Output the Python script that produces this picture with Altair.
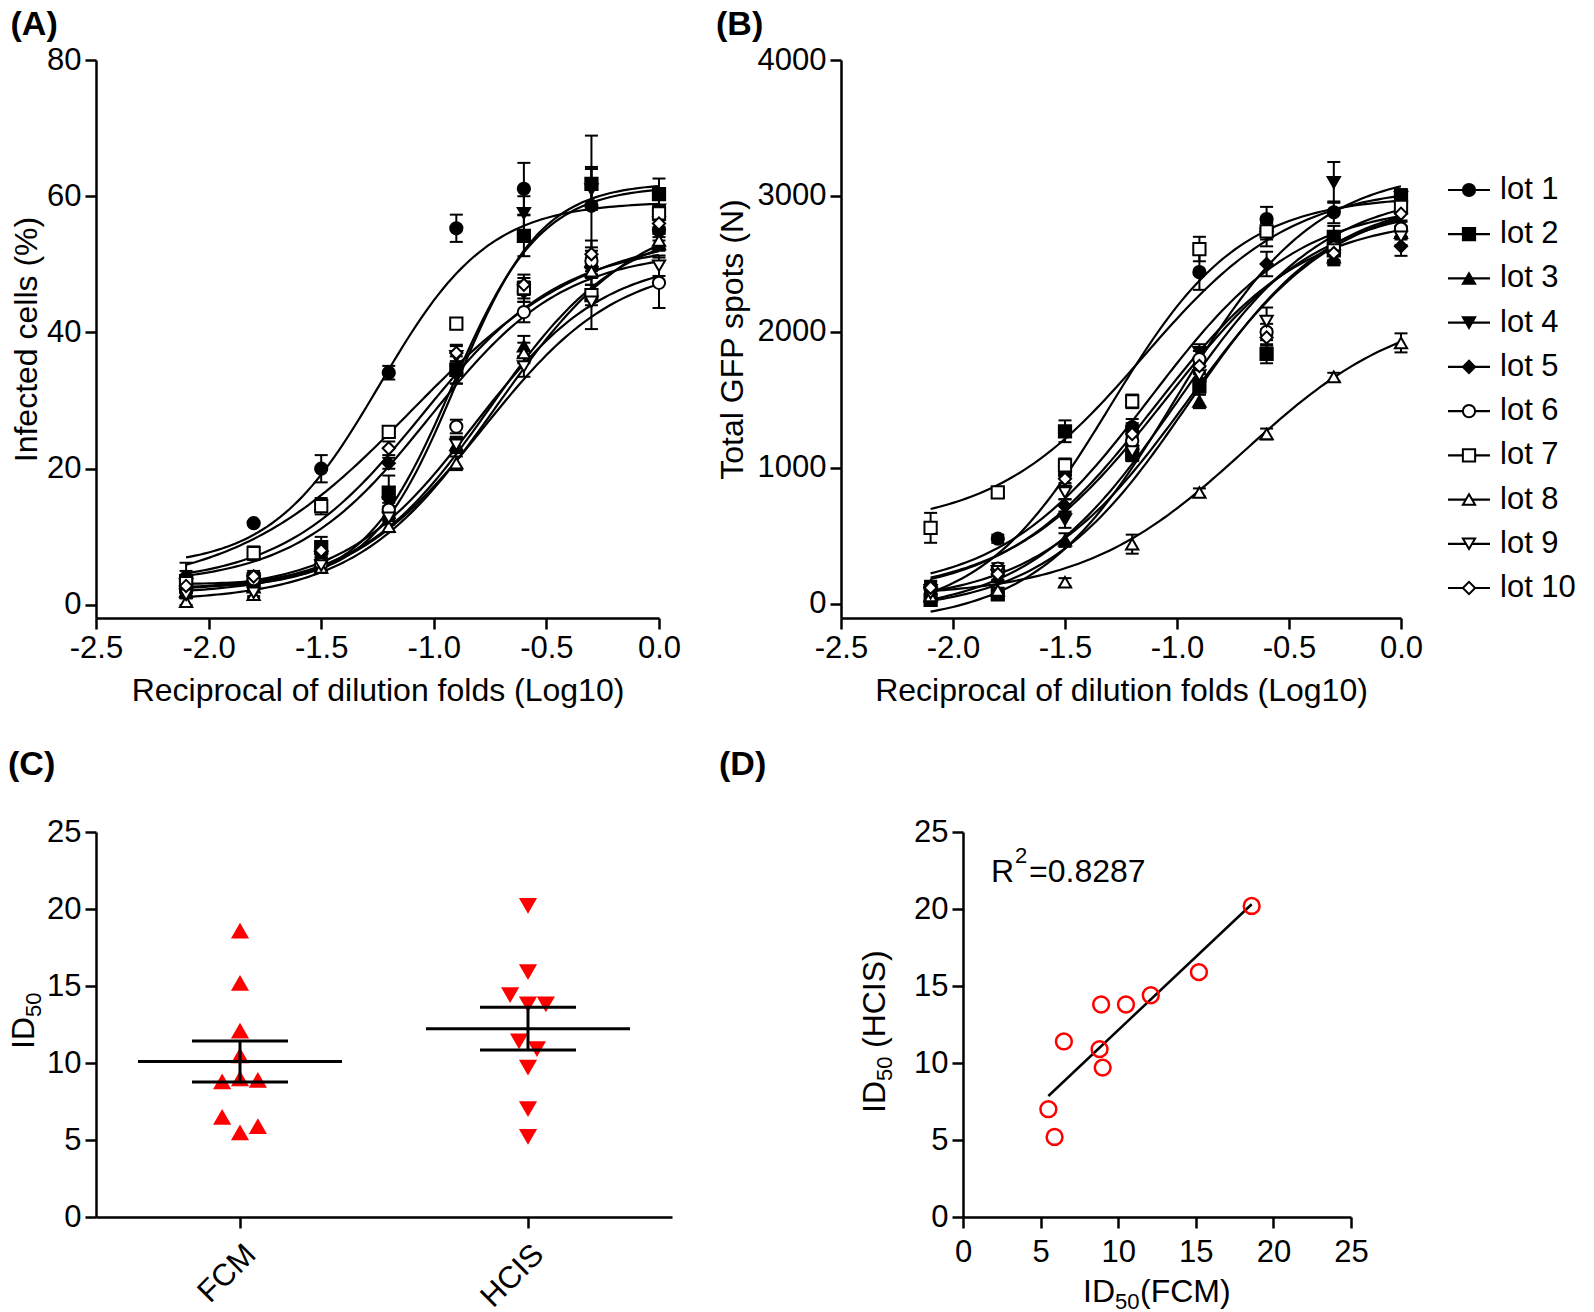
import altair as alt
import numpy as np
import pandas as pd

FONT = "Liberation Sans"
RED = "#ff0000"

lots = [f"lot {i}" for i in range(1, 11)]
dilution = [-2.1, -1.8, -1.5, -1.2, -0.9, -0.6, -0.3, 0.0]
lot_shapes = ["circle", "square", "triangle-up", "triangle-down", "diamond"] * 2
lot_fills = ["black"] * 5 + ["white"] * 5

# Panel A: infected cells (%)
infected_pct = {
    "lot 1": [4.0, 12.0, 20.0, 34.1, 55.3, 61.1, 58.6, 55.0],
    "lot 2": [3.5, 3.8, 8.5, 16.5, 34.5, 54.2, 61.8, 60.3],
    "lot 3": [2.0, 2.6, 6.5, 13.5, 23.5, 38.0, 50.5, 53.0],
    "lot 4": [3.0, 3.5, 7.0, 15.0, 36.5, 57.5, 61.0, 58.0],
    "lot 5": [2.8, 3.5, 7.5, 20.8, 34.0, 46.0, 49.5, 57.0],
    "lot 6": [2.0, 3.8, 6.0, 14.0, 26.2, 43.0, 50.5, 47.3],
    "lot 7": [3.2, 7.6, 14.5, 25.4, 41.3, 46.5, 45.5, 57.5],
    "lot 8": [0.5, 1.5, 5.5, 11.5, 20.8, 37.0, 49.0, 53.5],
    "lot 9": [1.5, 1.8, 5.8, 12.8, 23.5, 35.0, 44.5, 49.8],
    "lot 10": [2.8, 4.2, 8.0, 23.0, 37.0, 47.0, 51.5, 56.0],
}
infected_err = {
    "lot 1": [2.2, 0.0, 2.0, 1.0, 2.0, 3.8, 10.3, 1.5],
    "lot 2": [1.5, 0.8, 1.5, 2.5, 2.0, 3.0, 2.5, 2.3],
    "lot 3": [1.0, 0.5, 0.8, 1.0, 1.2, 1.5, 1.5, 1.0],
    "lot 4": [1.0, 0.8, 1.0, 1.5, 1.5, 2.5, 3.0, 1.5],
    "lot 5": [1.0, 0.8, 1.0, 0.8, 1.5, 1.5, 1.5, 1.5],
    "lot 6": [0.8, 0.5, 0.8, 1.0, 1.0, 1.5, 2.0, 3.7],
    "lot 7": [0.8, 1.0, 1.2, 0.5, 0.8, 1.5, 1.5, 1.0],
    "lot 8": [0.5, 0.5, 0.8, 0.8, 1.0, 1.5, 2.0, 1.0],
    "lot 9": [0.5, 0.5, 0.8, 1.0, 1.0, 1.5, 4.0, 1.5],
    "lot 10": [0.8, 0.8, 1.0, 1.0, 1.2, 1.5, 2.0, 1.5],
}
# fitted 4PL parameters: bottom, top, logEC50, hill
infected_fit = {
    "lot 1": (5.5, 59.2, -1.24, 1.8),
    "lot 2": (3.0, 62.0, -0.90, 2.3),
    "lot 3": (2.0, 56.0, -0.75, 1.5),
    "lot 4": (2.5, 61.5, -0.92, 2.2),
    "lot 5": (3.0, 52.0, -1.02, 1.45),
    "lot 6": (2.0, 51.0, -0.82, 1.5),
    "lot 7": (2.0, 55.0, -1.10, 1.1),
    "lot 8": (0.5, 58.0, -0.72, 1.4),
    "lot 9": (1.5, 50.5, -0.78, 1.45),
    "lot 10": (3.0, 53.0, -1.05, 1.4),
}

# Panel B: total GFP spots
gfp_spots = {
    "lot 1": [120, 480, 950, 1300, 2440, 2830, 2880, 2960],
    "lot 2": [30, 70, 1270, 1100, 1600, 1840, 2700, 3000],
    "lot 3": [60, 200, 470, 1180, 1490, 2780, 2550, 2730],
    "lot 4": [100, 210, 620, 1230, 1850, 2720, 3100, 2990],
    "lot 5": [130, 250, 720, 1270, 1640, 2500, 2580, 2630],
    "lot 6": [110, 260, 1010, 1200, 1800, 2000, 2620, 2760],
    "lot 7": [560, 820, 1020, 1490, 2610, 2740, 2600, 2920],
    "lot 8": [60, 100, 160, 440, 820, 1250, 1670, 1920],
    "lot 9": [80, 240, 820, 1120, 1680, 2080, 2560, 2700],
    "lot 10": [120, 220, 920, 1250, 1750, 1960, 2580, 2870],
}
gfp_err = {
    "lot 1": [50, 30, 60, 60, 130, 90, 80, 60],
    "lot 2": [40, 40, 80, 50, 60, 70, 80, 50],
    "lot 3": [40, 30, 50, 50, 50, 60, 60, 50],
    "lot 4": [50, 40, 60, 60, 60, 90, 150, 60],
    "lot 5": [40, 30, 50, 60, 60, 90, 60, 70],
    "lot 6": [40, 40, 40, 50, 60, 60, 60, 60],
    "lot 7": [110, 30, 50, 50, 90, 60, 70, 50],
    "lot 8": [20, 20, 30, 70, 30, 40, 30, 70],
    "lot 9": [30, 30, 50, 50, 90, 100, 60, 60],
    "lot 10": [40, 40, 50, 60, 60, 60, 60, 60],
}
gfp_fit = {
    "lot 1": (-100, 3000, -1.30, 1.5),
    "lot 2": (-80, 3050, -1.00, 1.3),
    "lot 3": (-60, 3000, -0.95, 1.35),
    "lot 4": (-150, 3200, -1.00, 1.4),
    "lot 5": (50, 2850, -1.10, 1.3),
    "lot 6": (60, 2950, -1.05, 1.25),
    "lot 7": (560, 3080, -1.15, 1.3),
    "lot 8": (50, 2200, -0.70, 1.2),
    "lot 9": (0, 3000, -0.95, 1.3),
    "lot 10": (80, 2950, -1.12, 1.3),
}

# Panels C and D: ID50 per lot
id50_fcm = [18.6, 15.2, 12.1, 10.5, 8.9, 6.5, 8.8, 9.0, 5.5, 5.9]
id50_hcis = [20.2, 15.9, 14.4, 13.8, 13.8, 11.4, 10.9, 9.7, 7.0, 5.2]
fcm_slot = [0, 0, 0, 0, 1, -1, -1, 0, 0, 1]
hcis_slot = [0, 0, -1, 0, 1, -0.5, 0.5, 0, 0, 0]
r_squared = "0.8287"

curve_x = np.linspace(-2.1, 0.0, 106)

LBL = 31
TTL = 32


def long_points(vals, errs):
    rows = []
    for lot in lots:
        for x, v, e in zip(dilution, vals[lot], errs[lot]):
            rows.append({"lot": lot, "x": x, "y": v, "lo": v - e, "hi": v + e, "e": e})
    return pd.DataFrame(rows)


def curve_frame(params):
    frames = []
    for lot in lots:
        b, t, ec, h = params[lot]
        y = b + (t - b) / (1 + 10 ** ((ec - curve_x) * h))
        frames.append(pd.DataFrame({"lot": lot, "x": curve_x, "y": y}))
    return pd.concat(frames, ignore_index=True)


def title(label, offset, frame="bounds", dx=0):
    return alt.Title(label, anchor="start", frame=frame, fontSize=34, fontWeight="bold",
                     font=FONT, color="black", offset=offset, dx=dx)


def dose_panel(vals, errs, fits, y_domain, y_ticks, y_title, y_pad, label, width, right_gap):
    pts = long_points(vals, errs)
    errdf = pts[pts["e"] > 0]
    xscale = alt.Scale(domain=[-2.5, 0.0], nice=False, zero=False)
    xaxis = alt.Axis(values=[-2.5, -2.0, -1.5, -1.0, -0.5, 0.0],
                     labelExpr="datum.value == 0 ? '0.0' : '-' + format(-datum.value, '.1f')",
                     title="Reciprocal of dilution folds (Log10)", titlePadding=12,
                     labelFlush=False, labelOverlap=False)
    yscale = alt.Scale(domain=y_domain, nice=False, zero=False)
    yaxis = alt.Axis(values=y_ticks, format="d", title=y_title, titlePadding=y_pad,
                     labelOverlap=False)

    def X(f):
        return alt.X(f"{f}:Q", scale=xscale, axis=xaxis, title="Reciprocal of dilution folds (Log10)")

    def Y(f):
        return alt.Y(f"{f}:Q", scale=yscale, axis=yaxis, title=y_title)

    curves = alt.Chart(curve_frame(fits)).mark_line(color="black", strokeWidth=2.2).encode(
        x=X("x"), y=Y("y"), detail="lot:N")
    bars = alt.Chart(errdf).mark_rule(color="black", strokeWidth=2, opacity=1).encode(
        x=X("x"), y=Y("lo"), y2="hi:Q")
    cap_lo = alt.Chart(errdf).mark_tick(orient="horizontal", size=13, thickness=2, color="black",
                                        opacity=1).encode(x=X("x"), y=Y("lo"))
    cap_hi = alt.Chart(errdf).mark_tick(orient="horizontal", size=13, thickness=2, color="black",
                                        opacity=1).encode(x=X("x"), y=Y("hi"))
    points = alt.Chart(pts).mark_point(size=150, strokeWidth=2, opacity=1, stroke="black").encode(
        x=X("x"), y=Y("y"),
        shape=alt.Shape("lot:N", scale=alt.Scale(domain=lots, range=lot_shapes), legend=None),
        fill=alt.Fill("lot:N", scale=alt.Scale(domain=lots, range=lot_fills), legend=None),
    )
    layers = [curves, bars, cap_lo, cap_hi, points]
    if right_gap:
        # invisible spacer that only widens the panel's right margin
        layers.append(alt.Chart(pd.DataFrame({"k": [0]})).mark_rule(opacity=0).encode(
            x=alt.value(width), x2=alt.value(width + right_gap), y=alt.value(0)))
    return alt.layer(*layers).properties(
        width=width, height=558, title=title(label, 2))


panel_a = dose_panel(infected_pct, infected_err, infected_fit, [-1.91, 80], [0, 20, 40, 60, 80],
                     "Infected cells (%)", 3, "(A)", 563, 34)
panel_b = dose_panel(gfp_spots, gfp_err, gfp_fit, [-103, 4000], [0, 1000, 2000, 3000, 4000],
                     "Total GFP spots (N)", 8, "(B)", 560, 0)

# legend (same lot shapes / fills)
leg_df = pd.DataFrame({"lot": lots, "idx": list(range(1, len(lots) + 1))})
leg_y = alt.Y("idx:Q", scale=alt.Scale(domain=[1, len(lots)], range=[130, 528], nice=False, zero=False),
              axis=None)
leg_base = alt.Chart(leg_df).encode(y=leg_y)
leg_line = leg_base.mark_rule(color="black", strokeWidth=2.2, opacity=1).encode(
    x=alt.value(0), x2=alt.value(42))
leg_pt = leg_base.mark_point(size=150, strokeWidth=2, opacity=1, stroke="black").encode(
    x=alt.value(21),
    shape=alt.Shape("lot:N", scale=alt.Scale(domain=lots, range=lot_shapes), legend=None),
    fill=alt.Fill("lot:N", scale=alt.Scale(domain=lots, range=lot_fills), legend=None),
)
leg_txt = leg_base.mark_text(align="left", baseline="middle", fontSize=LBL, font=FONT, color="black").encode(
    x=alt.value(52), text="lot:N")
legend = alt.layer(leg_line, leg_pt, leg_txt).properties(width=42, height=558, title=title(" ", 2))

# Panel C
c_df = pd.DataFrame({
    "method": ["FCM"] * len(id50_fcm) + ["HCIS"] * len(id50_hcis),
    "value": id50_fcm + id50_hcis,
    "slot": fcm_slot + hcis_slot,
})
cx_scale = alt.Scale(domain=[-0.5, 1.5], nice=False, zero=False)
cx_axis = alt.Axis(values=[0, 1], labelExpr="datum.value < 0.5 ? 'FCM' : 'HCIS'", labelAngle=-45,
                   title=None, labelFlush=False, labelOverlap=False, labelPadding=11)
id_scale = alt.Scale(domain=[0, 25], nice=False, zero=False)
id_axis = alt.Axis(values=[0, 5, 10, 15, 20, 25], title=None, labelOverlap=False)


def c_points(method, shape):
    return alt.Chart(c_df).transform_filter(
        alt.datum.method == method
    ).transform_calculate(
        xpos="(datum.method == 'FCM' ? 0 : 1) + datum.slot * 0.062"
    ).mark_point(filled=True, size=330, opacity=1, color=RED, shape=shape).encode(
        x=alt.X("xpos:Q", scale=cx_scale, axis=cx_axis),
        y=alt.Y("value:Q", scale=id_scale, axis=id_axis),
    )


stats = alt.Chart(c_df).transform_aggregate(
    mean="mean(value)", sd="stdev(value)", n="count()", groupby=["method"]
).transform_calculate(
    xg="datum.method == 'FCM' ? 0 : 1",
    lo="datum.mean - datum.sd / sqrt(datum.n)",
    hi="datum.mean + datum.sd / sqrt(datum.n)",
)
cX = alt.X("xg:Q", scale=cx_scale, axis=cx_axis)
mean_tick = stats.mark_tick(orient="horizontal", size=204, thickness=3, color="black", opacity=1).encode(
    x=cX, y=alt.Y("mean:Q", scale=id_scale, axis=id_axis))
sem_lo = stats.mark_tick(orient="horizontal", size=96, thickness=3, color="black", opacity=1).encode(
    x=cX, y=alt.Y("lo:Q", scale=id_scale, axis=id_axis))
sem_hi = stats.mark_tick(orient="horizontal", size=96, thickness=3, color="black", opacity=1).encode(
    x=cX, y=alt.Y("hi:Q", scale=id_scale, axis=id_axis))
sem_rule = stats.mark_rule(color="black", strokeWidth=3, opacity=1).encode(
    x=cX, y=alt.Y("lo:Q", scale=id_scale, axis=id_axis), y2="hi:Q")

one = pd.DataFrame({"k": [0]})


def label_text(txt, x, y, size=TTL, angle=0):
    return alt.Chart(one).mark_text(text=txt, align="left", baseline="alphabetic", fontSize=size,
                                    font=FONT, color="black", angle=angle).encode(
        x=alt.value(x), y=alt.value(y))


c_title = [label_text("ID", -62, 217, TTL, 270), label_text("50", -55, 185, 22, 270)]
panel_c = alt.layer(c_points("FCM", "triangle-up"), c_points("HCIS", "triangle-down"),
                    mean_tick, sem_rule, sem_lo, sem_hi, *c_title).properties(
    width=576, height=385, title=title("(C)", 34))

# Panel D
d_df = pd.DataFrame({"fcm": id50_fcm, "hcis": id50_hcis})
dX = alt.X("fcm:Q", scale=id_scale, axis=alt.Axis(values=[0, 5, 10, 15, 20, 25], title=None,
                                                   labelFlush=False, labelOverlap=False, labelPadding=9))
dY = alt.Y("hcis:Q", scale=id_scale, axis=id_axis)
d_line = alt.Chart(d_df).transform_regression("fcm", "hcis").mark_line(color="black", strokeWidth=2.5).encode(
    x=dX, y=dY)
d_pts = alt.Chart(d_df).mark_point(shape="circle", size=250, strokeWidth=2.5, opacity=1, color=RED,
                                   filled=False).encode(x=dX, y=dY)
d_texts = [
    label_text("ID", -78, 281, TTL, 270),
    label_text("50", -71, 249, 22, 270),
    label_text("(HCIS)", -78, 216, TTL, 270),
    label_text("ID", 120, 470, TTL),
    label_text("50", 152, 477, 22),
    label_text("(FCM)", 177, 470, TTL),
    label_text("R", 28, 50, TTL),
    label_text("2", 52, 31, 22),
    label_text("=" + r_squared, 66, 50, TTL),
]
panel_d = alt.layer(d_line, d_pts, *d_texts).properties(
    width=388, height=385, title=title("(D)", 34, frame="group", dx=-244))

top = alt.hconcat(panel_a, panel_b, legend, spacing=23)
bottom = alt.hconcat(panel_c, panel_d, spacing=47)

chart = alt.vconcat(top, bottom, spacing=42).properties(padding=0).configure(
    font=FONT
).configure_view(stroke=None).configure_axis(
    domainColor="black", domainWidth=2.5, tickColor="black", tickWidth=2.5, tickSize=11,
    labelColor="black", labelFontSize=LBL, labelFont=FONT, labelPadding=4,
    titleColor="black", titleFontSize=TTL, titleFont=FONT, titleFontWeight="normal", grid=False,
)

chart.save("out.html", embed_options={"renderer": "svg", "actions": False})
